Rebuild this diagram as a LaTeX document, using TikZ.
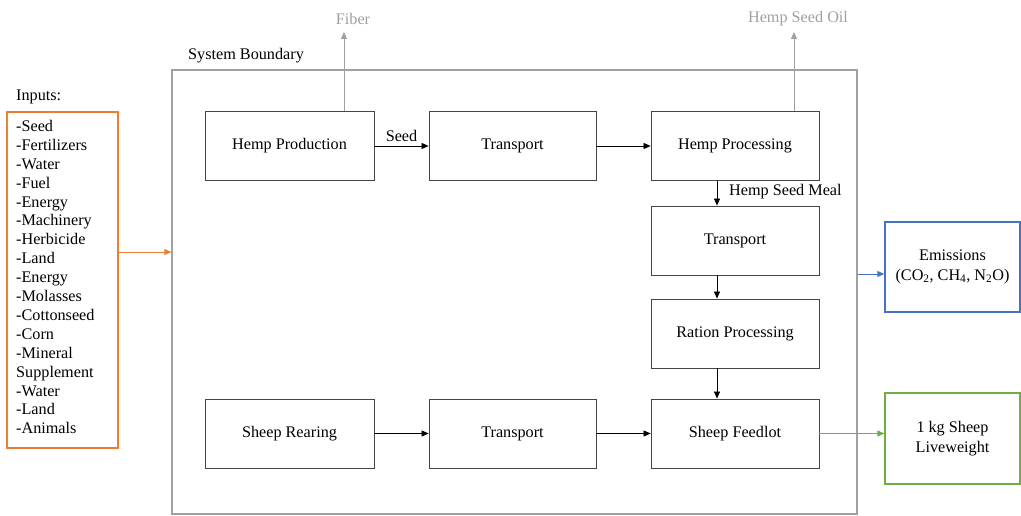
\documentclass[tikz,border=0pt]{standalone}
\usepackage{fontspec}
\setmainfont{Liberation Serif}
\usetikzlibrary{arrows.meta}
\definecolor{boxline}{RGB}{70,70,70}
\definecolor{bgray}{RGB}{160,160,160}
\definecolor{orng}{RGB}{237,125,49}
\definecolor{blu}{RGB}{68,114,196}
\definecolor{grn}{RGB}{112,173,71}
\tikzset{
  procbox/.style={draw=boxline, line width=0.8pt, minimum width=168pt, minimum height=69pt, inner sep=0pt, font=\fontsize{16.2}{18.9}\selectfont},
  outbox/.style={line width=1.3pt, minimum width=135pt, minimum height=90pt, inner sep=0pt, align=center, font=\fontsize{16.2}{19.5}\selectfont},
  lbl/.style={inner sep=0pt, font=\fontsize{16.2}{18.9}\selectfont},
  flow/.style={draw=black, line width=0.7pt, -{Triangle[length=7pt,width=6pt]}},
  grayflow/.style={draw=bgray, line width=1pt, -{Triangle[length=7pt,width=6pt]}},
}
\begin{document}
\begin{tikzpicture}[x=1pt,y=-1pt]
\useasboundingbox (0,0) rectangle (1021,516);
% system boundary
\node[draw=bgray, line width=1.3pt, minimum width=685pt, minimum height=444pt, inner sep=0pt] (bnd) at (514.5,292) {};
\node[lbl, anchor=west] (bndlbl) at (188,56) {System Boundary};
% inputs
\node[lbl, anchor=west] (inlbl) at (16,97) {Inputs:};
\node[draw=orng, line width=1.3pt, minimum width=111pt, minimum height=336pt, inner sep=0pt] (inp) at (62.5,280) {};
\node[lbl, anchor=north west, align=left] (inptext) at (16,120) {-Seed\\-Fertilizers\\-Water\\-Fuel\\-Energy\\-Machinery\\-Herbicide\\-Land\\-Energy\\-Molasses\\-Cottonseed\\-Corn\\-Mineral\\Supplement\\-Water\\-Land\\-Animals};
% process boxes
\node[procbox, minimum width=169pt] (hp) at (289.5,146) {Hemp Production};
\node[procbox, minimum width=167pt] (t1) at (512.5,146) {Transport};
\node[procbox] (hpr) at (735,146) {Hemp Processing};
\node[procbox] (t2) at (735,240.5) {Transport};
\node[procbox] (rp) at (735,333.5) {Ration Processing};
\node[procbox] (sf) at (735,433.5) {Sheep Feedlot};
\node[procbox, minimum width=169pt] (sr) at (289.5,433.5) {Sheep Rearing};
\node[procbox, minimum width=167pt] (t3) at (512.5,433.5) {Transport};
% outputs
\node[outbox, draw=blu] (em) at (952.5,267) {Emissions\\(CO\textsubscript{2}, CH\textsubscript{4}, N\textsubscript{2}O)};
\node[outbox, draw=grn, minimum height=91pt] (lw) at (952.5,438.5) {1 kg Sheep\\Liveweight};
% coproducts
\node[lbl, text=bgray] (fib) at (353,19) {Fiber};
\node[lbl, text=bgray] (oil) at (798,19) {Hemp Seed Oil};
\coordinate (fibtip) at (344,32);
\coordinate (oiltip) at (794,32);
\draw[grayflow] (hp.north -| fibtip) -- (fibtip);
\draw[grayflow] (hpr.north -| oiltip) -- (oiltip);
% main flows
\draw[flow] (hp) -- node[lbl, above=4pt] (seedlbl) {Seed} (t1);
\draw[flow] (t1) -- (hpr);
\coordinate (xv) at (717,0);
\draw[flow] (hpr.south -| xv) -- (t2.north -| xv);
\node[lbl, anchor=west] (hsm) at (729,192) {Hemp Seed Meal};
\draw[flow] (t2.south -| xv) -- (rp.north -| xv);
\draw[flow] (rp.south -| xv) -- (sf.north -| xv);
\draw[flow] (sr) -- (t3);
\draw[flow] (t3) -- (sf);
% boundary flows
\coordinate (yin) at (0,252);
\coordinate (yem) at (0,274);
\draw[draw=orng, line width=0.8pt, -{Triangle[length=7pt,width=6pt]}] (inp.east |- yin) -- (bnd.west |- yin);
\draw[draw=blu, line width=0.8pt, -{Triangle[length=7pt,width=6pt]}] (bnd.east |- yem) -- (em.west |- yem);
\draw[draw=grn, line width=0.8pt, -{Triangle[length=7pt,width=6pt]}] (sf.east) -- (sf.east -| lw.west);
\end{tikzpicture}
\end{document}
